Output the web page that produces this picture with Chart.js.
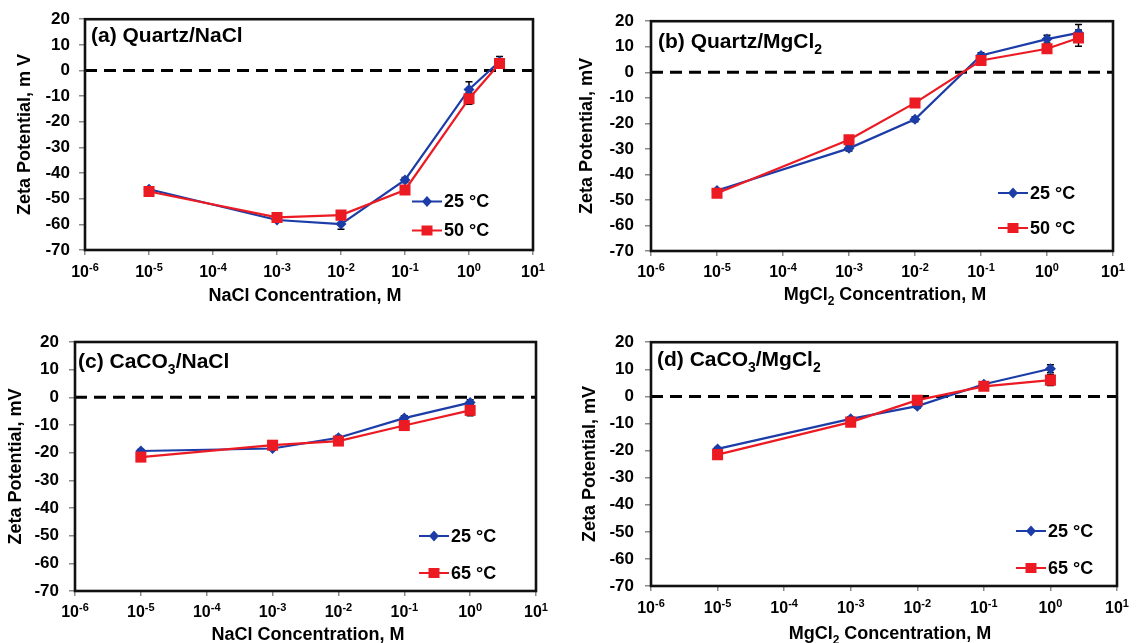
<!DOCTYPE html>
<html>
<head>
<meta charset="utf-8">
<script src="https://cdn.jsdelivr.net/npm/chart.js@4.4.1/dist/chart.umd.min.js"></script>
<style>
  html, body { margin: 0; padding: 0; background: #fff; }
  body { width: 1143px; height: 643px; position: relative; overflow: hidden; }
  .panel { position: absolute; }
</style>
</head>
<body>
<div class="panel" style="left:0;top:0;width:571px;height:321px"><canvas id="chartA"></canvas></div>
<div class="panel" style="left:571px;top:0;width:572px;height:321px"><canvas id="chartB"></canvas></div>
<div class="panel" style="left:0;top:321px;width:571px;height:322px"><canvas id="chartC"></canvas></div>
<div class="panel" style="left:571px;top:321px;width:572px;height:322px"><canvas id="chartD"></canvas></div>
<script>
// Salt concentrations (M)
const concQuartz = [1e-5, 1e-3, 1e-2, 1e-1, 1, 3];
const concCalcite = [1e-5, 1e-3, 1e-2, 1e-1, 1];

// Axis ticks
const xTickExponents = [-6, -5, -4, -3, -2, -1, 0, 1];
const yMin = -70, yMax = 20, yStep = 10;

// (a) Quartz / NaCl, zeta potential (mV) and error
const quartzNaCl25 = [-46.3, -58.3, -59.9, -42.7, -7.4, 3.5];
const quartzNaCl25Err = [0.8, 0.8, 2.0, 1.0, 3.0, 2.0];
const quartzNaCl50 = [-47.2, -57.3, -56.4, -46.6, -11.0, 2.7];
const quartzNaCl50Err = [0.8, 0.8, 0.8, 1.0, 2.2, 1.5];

// (b) Quartz / MgCl2
const quartzMgCl25 = [-46.3, -29.8, -18.4, 6.6, 13.0, 15.4];
const quartzMgCl25Err = [0.6, 1.0, 1.0, 1.0, 1.5, 3.3];
const quartzMgCl50 = [-47.4, -26.4, -12.0, 4.6, 9.2, 13.4];
const quartzMgCl50Err = [0.6, 1.0, 1.0, 1.0, 1.5, 3.2];

// (c) CaCO3 / NaCl
const calciteNaCl25 = [-19.4, -18.5, -14.6, -7.5, -1.9];
const calciteNaCl25Err = [0.5, 0.5, 0.8, 0.8, 1.0];
const calciteNaCl65 = [-21.6, -17.3, -15.8, -10.2, -4.7];
const calciteNaCl65Err = [0.5, 0.5, 0.8, 1.5, 2.0];

// (d) CaCO3 / MgCl2
const calciteMgCl25 = [-19.4, -8.3, -3.6, 4.5, 10.2];
const calciteMgCl25Err = [0.5, 0.8, 0.8, 0.8, 1.5];
const calciteMgCl65 = [-21.5, -9.5, -1.4, 3.7, 6.0];
const calciteMgCl65Err = [0.5, 0.8, 0.8, 0.8, 2.0];

const FONT = "'Liberation Sans', Arial, Helvetica, sans-serif";
const BLUE = '#1c3ca8';
const RED = '#ec1a22';

// Draw a run of text pieces, some of which may be sub- or superscripts.
function richText(ctx, segs, x, y, size, align, smallRatio) {
  const ratio = smallRatio || 0.68;
  const parts = segs.map(s => {
    const small = s.sub || s.sup;
    const sz = small ? Math.round(size * ratio) : size;
    ctx.font = `bold ${sz}px ${FONT}`;
    return { t: s.t, sz, w: ctx.measureText(s.t).width,
             dy: s.sub ? size * 0.28 : (s.sup ? -size * 0.36 : 0) };
  });
  const total = parts.reduce((a, p) => a + p.w, 0);
  let cx = align === 'center' ? x - total / 2 : x;
  ctx.textAlign = 'left';
  ctx.textBaseline = 'alphabetic';
  ctx.fillStyle = '#000';
  for (const p of parts) {
    ctx.font = `bold ${p.sz}px ${FONT}`;
    ctx.fillText(p.t, cx, y + p.dy);
    cx += p.w;
  }
}

function decorPlugin(cfg) {
  return {
    id: 'panelDecor',
    beforeDatasetsDraw(chart) {
      const ctx = chart.ctx;
      const ys = chart.scales.y;
      ctx.save();
      ctx.strokeStyle = '#000';
      ctx.lineWidth = 1.5;
      chart.data.datasets.forEach((ds, i) => {
        if (!ds.errorBars) return;
        const meta = chart.getDatasetMeta(i);
        meta.data.forEach((pt, j) => {
          const v = ds.data[j].y, e = ds.errorBars[j];
          const y1 = ys.getPixelForValue(v + e), y2 = ys.getPixelForValue(v - e);
          ctx.beginPath();
          ctx.moveTo(pt.x, y1); ctx.lineTo(pt.x, y2);
          ctx.moveTo(pt.x - 3.5, y1); ctx.lineTo(pt.x + 3.5, y1);
          ctx.moveTo(pt.x - 3.5, y2); ctx.lineTo(pt.x + 3.5, y2);
          ctx.stroke();
        });
      });
      ctx.restore();
    },
    afterDraw(chart) {
      const ctx = chart.ctx;
      const a = chart.chartArea;
      const xs = chart.scales.x;
      ctx.save();
      // plot frame
      ctx.strokeStyle = '#111';
      ctx.lineWidth = 2.6;
      ctx.strokeRect(a.left, a.top, a.right - a.left, a.bottom - a.top);

      // x tick labels: 10 with a raised exponent
      xTickExponents.forEach(e => {
        const px = xs.getPixelForValue(Math.pow(10, e));
        richText(ctx, [{ t: '10' }, { t: String(e), sup: true }], px, cfg.xTickBase, 16, 'center', 0.7);
      });

      // x axis title
      richText(ctx, cfg.xTitle, cfg.xTitleX, cfg.xTitleBase, 18, 'center');

      // panel title
      richText(ctx, cfg.title, cfg.titleX, cfg.titleBase, 21, 'left');

      // legend
      cfg.legend.forEach((it, k) => {
        const y = cfg.legendRows[k];
        ctx.strokeStyle = it.color;
        ctx.lineWidth = 2;
        ctx.beginPath();
        ctx.moveTo(cfg.legendLine[0], y);
        ctx.lineTo(cfg.legendLine[1], y);
        ctx.stroke();
        const mx = (cfg.legendLine[0] + cfg.legendLine[1]) / 2;
        ctx.fillStyle = it.color;
        ctx.beginPath();
        if (it.marker === 'diamond') {
          ctx.moveTo(mx - 5, y); ctx.lineTo(mx, y - 5.5); ctx.lineTo(mx + 5, y); ctx.lineTo(mx, y + 5.5);
        } else {
          ctx.rect(mx - 5.5, y - 5, 11, 10);
        }
        ctx.closePath();
        ctx.fill();
        ctx.fillStyle = '#000';
        ctx.font = `bold 18px ${FONT}`;
        ctx.textAlign = 'left';
        ctx.textBaseline = 'middle';
        ctx.fillText(it.label, cfg.legendLine[1] + 2, y + 1);
      });
      ctx.restore();
    }
  };
}

function series(xs, ys) { return xs.map((x, i) => ({ x, y: ys[i] })); }

function makePanel(id, p) {
  const datasets = [
    { label: p.legend[1].label, data: series(p.conc, p.hot), errorBars: p.hotErr,
      borderColor: RED, backgroundColor: RED, borderWidth: 2.2,
      pointStyle: 'rect', pointRadius: 7.8, pointBorderWidth: 0, order: 0 },
    { label: p.legend[0].label, data: series(p.conc, p.cold), errorBars: p.coldErr,
      borderColor: BLUE, backgroundColor: BLUE, borderWidth: 2.2,
      pointStyle: 'rectRot', pointRadius: 5.5, pointBorderWidth: 0, order: 1 },
    { label: 'zero', data: [{ x: Math.pow(10, xTickExponents[0]), y: 0 },
                            { x: Math.pow(10, xTickExponents[xTickExponents.length - 1]), y: 0 }],
      borderColor: '#000', borderWidth: 3, borderDash: [12, 7], pointRadius: 0, order: 2 }
  ];
  return new Chart(document.getElementById(id), {
    type: 'line',
    data: { datasets },
    options: {
      responsive: true,
      maintainAspectRatio: false,
      animation: false,
      devicePixelRatio: 1,
      layout: { padding: { left: 0, right: p.padRight, top: p.padTop, bottom: 0 } },
      plugins: { legend: { display: false }, tooltip: { enabled: false } },
      scales: {
        x: {
          type: 'logarithmic',
          min: Math.pow(10, xTickExponents[0]),
          max: Math.pow(10, xTickExponents[xTickExponents.length - 1]),
          afterBuildTicks: s => { s.ticks = xTickExponents.map(e => ({ value: Math.pow(10, e) })); },
          afterFit: s => { s.height = p.xHeight; },
          ticks: { display: false },
          grid: { drawOnChartArea: false, drawTicks: true, tickLength: 5, color: '#8a8a8a', lineWidth: 1.5 },
          border: { display: false }
        },
        y: {
          type: 'linear',
          min: yMin, max: yMax,
          afterFit: s => { s.width = p.yWidth; },
          ticks: { stepSize: yStep, padding: p.yTickPad, color: '#000',
                   font: { family: FONT, size: 17, weight: 'bold' } },
          grid: { drawOnChartArea: false, drawTicks: true, tickLength: 6, color: '#8a8a8a', lineWidth: 1.5 },
          border: { display: false },
          title: { display: true, text: p.yTitle, color: '#000',
                   font: { family: FONT, size: 18, weight: 'bold' },
                   padding: { top: p.yTitlePad, bottom: 0 } }
        }
      }
    },
    plugins: [decorPlugin(p)]
  });
}

makePanel('chartA', {
  conc: concQuartz, cold: quartzNaCl25, coldErr: quartzNaCl25Err, hot: quartzNaCl50, hotErr: quartzNaCl50Err,
  padRight: 38, padTop: 18, xHeight: 71, yWidth: 85, yTickPad: 9, yTitlePad: 14,
  yTitle: 'Zeta Potential, m V',
  xTitle: [{ t: 'NaCl Concentration, M' }], xTitleX: 305, xTitleBase: 301, xTickBase: 277,
  title: [{ t: '(a) Quartz/NaCl' }], titleX: 91, titleBase: 42,
  legend: [{ label: '25 °C', color: BLUE, marker: 'diamond' }, { label: '50 °C', color: RED, marker: 'square' }],
  legendLine: [412, 442], legendRows: [201.5, 230.5]
});

makePanel('chartB', {
  conc: concQuartz, cold: quartzMgCl25, coldErr: quartzMgCl25Err, hot: quartzMgCl50, hotErr: quartzMgCl50Err,
  padRight: 30, padTop: 17, xHeight: 70, yWidth: 80, yTickPad: 11, yTitlePad: 5,
  yTitle: 'Zeta Potential, mV',
  xTitle: [{ t: 'MgCl' }, { t: '2', sub: true }, { t: ' Concentration, M' }], xTitleX: 314, xTitleBase: 299.5, xTickBase: 277,
  title: [{ t: '(b) Quartz/MgCl' }, { t: '2', sub: true }], titleX: 87, titleBase: 48,
  legend: [{ label: '25 °C', color: BLUE, marker: 'diamond' }, { label: '50 °C', color: RED, marker: 'square' }],
  legendLine: [427, 457], legendRows: [193, 228]
});

makePanel('chartC', {
  conc: concCalcite, cold: calciteNaCl25, coldErr: calciteNaCl25Err, hot: calciteNaCl65, hotErr: calciteNaCl65Err,
  padRight: 35, padTop: 21, xHeight: 52, yWidth: 75, yTickPad: 10, yTitlePad: 5,
  yTitle: 'Zeta Potential, mV',
  xTitle: [{ t: 'NaCl Concentration, M' }], xTitleX: 308, xTitleBase: 318.5, xTickBase: 296,
  title: [{ t: '(c) CaCO' }, { t: '3', sub: true }, { t: '/NaCl' }], titleX: 78, titleBase: 47,
  legend: [{ label: '25 °C', color: BLUE, marker: 'diamond' }, { label: '65 °C', color: RED, marker: 'square' }],
  legendLine: [419, 449], legendRows: [215, 252]
});

makePanel('chartD', {
  conc: concCalcite, cold: calciteMgCl25, coldErr: calciteMgCl25Err, hot: calciteMgCl65, hotErr: calciteMgCl65Err,
  padRight: 26, padTop: 21, xHeight: 57, yWidth: 80, yTickPad: 11, yTitlePad: 8,
  yTitle: 'Zeta Potential, mV',
  xTitle: [{ t: 'MgCl' }, { t: '2', sub: true }, { t: ' Concentration, M' }], xTitleX: 319, xTitleBase: 317.5, xTickBase: 292,
  title: [{ t: '(d) CaCO' }, { t: '3', sub: true }, { t: '/MgCl' }, { t: '2', sub: true }], titleX: 86, titleBase: 45,
  legend: [{ label: '25 °C', color: BLUE, marker: 'diamond' }, { label: '65 °C', color: RED, marker: 'square' }],
  legendLine: [445, 475], legendRows: [210, 247]
});
</script>
</body>
</html>
